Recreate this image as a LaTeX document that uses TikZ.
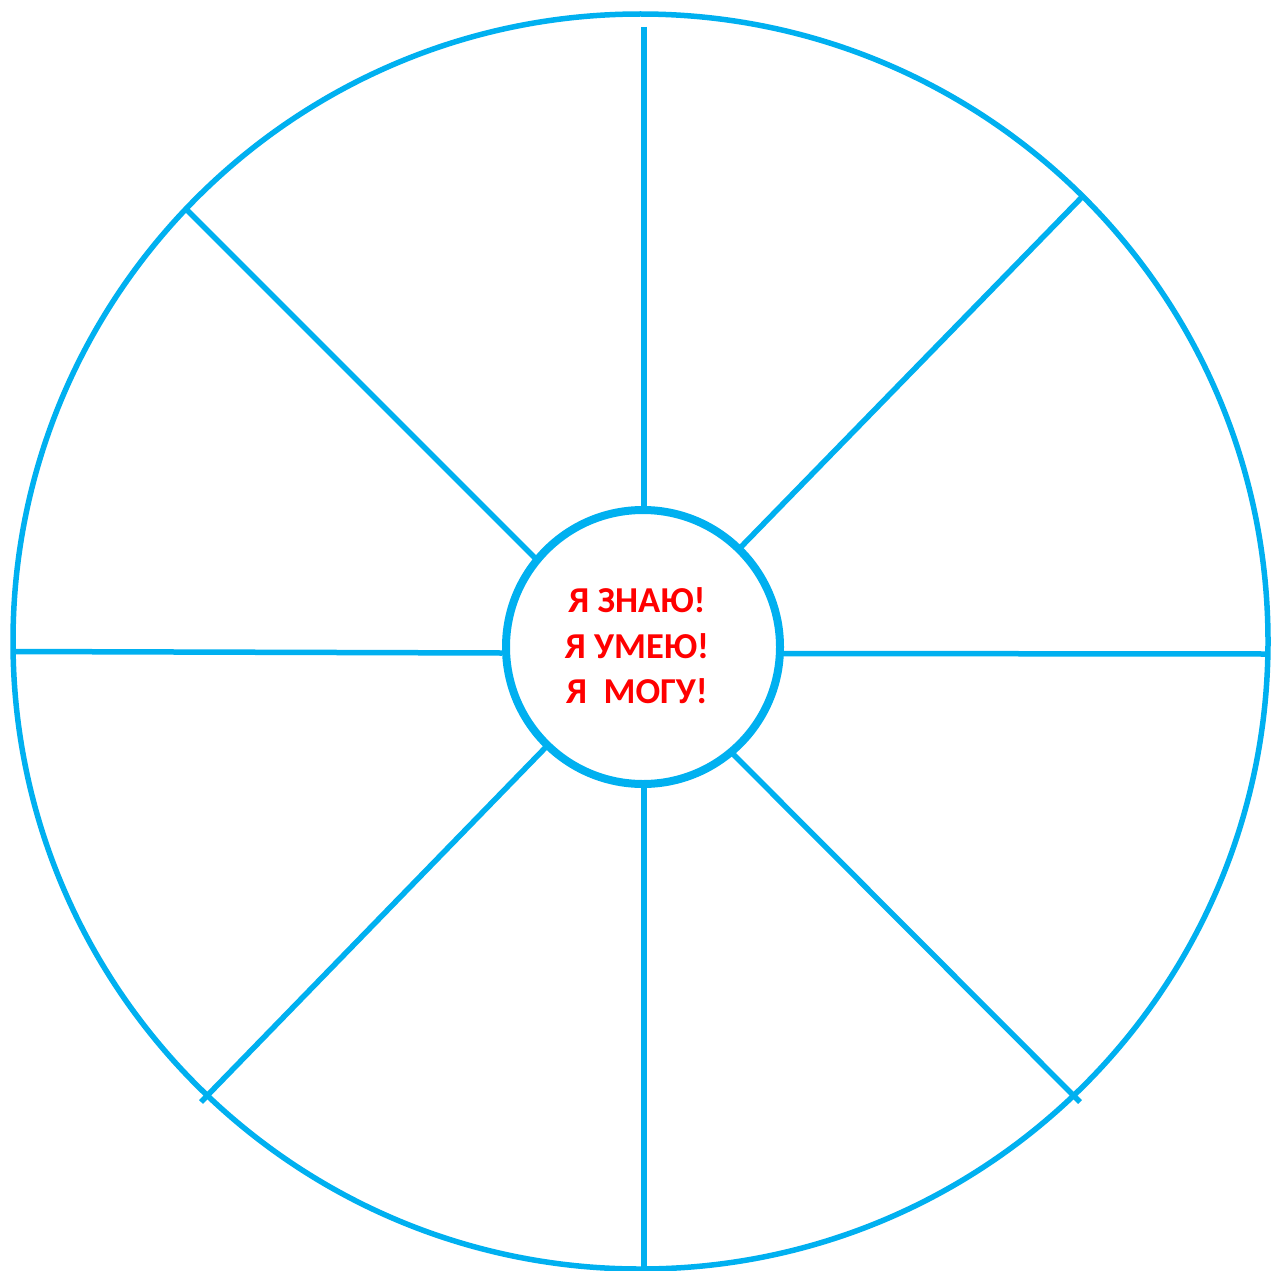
\documentclass[tikz,border=0pt]{standalone}
\usepackage{fontspec}
\setmainfont{Carlito}
\definecolor{wheelblue}{HTML}{00B0F0}
\definecolor{textred}{HTML}{FF0000}
\begin{document}
\begin{tikzpicture}[x=1pt,y=-1pt,
  spoke/.style={draw=wheelblue,line width=5.5pt},
  rimstyle/.style={draw=wheelblue,line width=5.5pt,circle,minimum size=1255pt,inner sep=0pt},
  hubstyle/.style={draw=wheelblue,line width=8pt,circle,minimum size=274pt,inner sep=0pt,fill=white},
  motto/.style={text=textred,align=center,font=\fontsize{36.5}{45.5}\selectfont\bfseries}]
\useasboundingbox[fill=white] (0,0) rectangle (1270,1271);
\node[rimstyle] (rim) at (640.5,641.5) {};
% spoke ends
\coordinate (t1) at (644,27);    \coordinate (t2) at (644,512);
\coordinate (b1) at (644,786);   \coordinate (b2) at (644,1272);
\coordinate (l1) at (13,651.5);  \coordinate (l2) at (502,653);
\coordinate (r1) at (783,653.5); \coordinate (r2) at (1268,654);
\coordinate (ul1) at (186,209);  \coordinate (ul2) at (538,561);
\coordinate (ur1) at (1083,196); \coordinate (ur2) at (739,549);
\coordinate (ll1) at (201,1102); \coordinate (ll2) at (546,747);
\coordinate (lr1) at (1080,1102);\coordinate (lr2) at (733,754);
\draw[spoke] (t1) -- (t2);
\draw[spoke] (b1) -- (b2);
\draw[spoke] (l1) -- (l2);
\draw[spoke] (r1) -- (r2);
\draw[spoke] (ul1) -- (ul2);
\draw[spoke] (ur1) -- (ur2);
\draw[spoke] (ll1) -- (ll2);
\draw[spoke] (lr1) -- (lr2);
\node[hubstyle] (hub) at (643,647) {};
\node[motto] (text) at (637,646) {Я ЗНАЮ!\\Я УМЕЮ!\\Я\ \ МОГУ!};
\end{tikzpicture}
\end{document}
